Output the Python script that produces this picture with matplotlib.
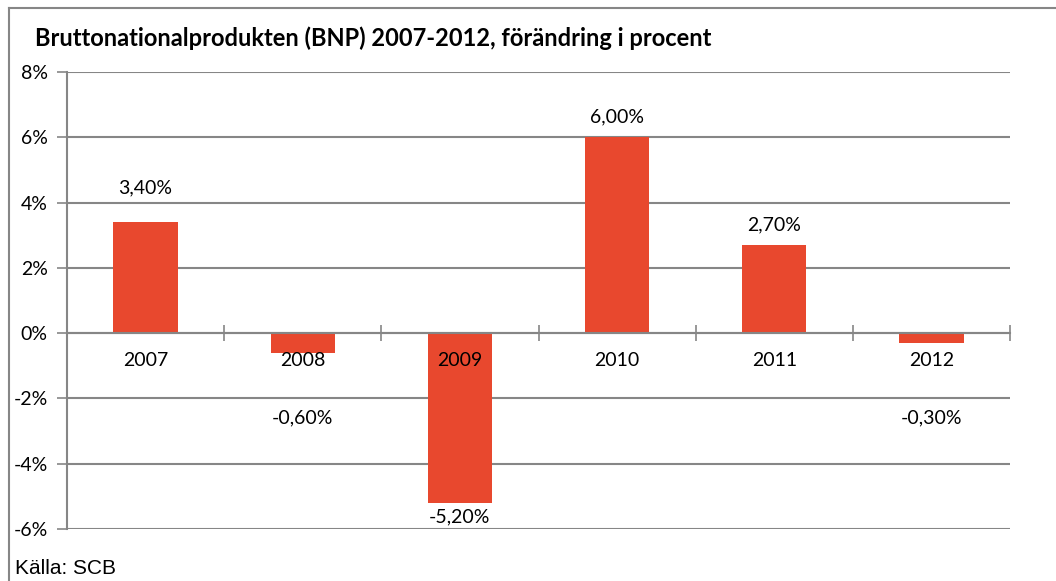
import matplotlib.pyplot as plt
import numpy as np
from matplotlib.lines import Line2D

# BNP-förändring per år (procent)
years = ['2007', '2008', '2009', '2010', '2011', '2012']
bnp = [3.4, -0.6, -5.2, 6.0, 2.7, -0.3]
y_ticks = [-6, -4, -2, 0, 2, 4, 6, 8]

GRAY = '#868686'
RED = '#E8482E'
FS = 14

plt.rcParams['font.family'] = ['Lato', 'DejaVu Sans']

fig = plt.figure(figsize=(10.56, 5.81), dpi=100)
ax = fig.add_axes([67 / 1056, 52 / 581, 943 / 1056, 457 / 581])

x = np.arange(len(years))
ax.bar(x, bnp, width=0.41, color=RED, zorder=3)

ax.set_xlim(-0.5, len(years) - 0.5)
ax.set_ylim(-6, 8)
ax.set_yticks(y_ticks)
ax.set_yticklabels([f'{t}%' for t in y_ticks], fontsize=FS)
ax.yaxis.grid(True, color=GRAY, lw=1.5, zorder=0)

# x-axeln ligger vid 0 med streck mellan kategorierna
ax.spines['bottom'].set_position(('data', 0))
ax.spines['bottom'].set_color(GRAY)
ax.spines['bottom'].set_linewidth(1.5)
ax.spines['bottom'].set_zorder(4)
ax.set_xticks(np.arange(-0.5, len(years), 1.0))
ax.set_xticklabels([])
ax.tick_params(axis='x', direction='inout', length=12, width=1.2, color=GRAY)
ax.spines['left'].set_color(GRAY)
ax.spines['left'].set_linewidth(1.5)
ax.tick_params(axis='y', direction='out', length=7, width=1.2, color=GRAY, pad=7)
for s in ['top', 'right']:
    ax.spines[s].set_visible(False)

# årtal under nollinjen
for i, yr in enumerate(years):
    ax.annotate(yr, (i, 0), xytext=(0, -19.5), textcoords='offset points',
                ha='center', va='center', fontsize=FS, zorder=5)

# värdeetiketter
for i, v in enumerate(bnp):
    txt = f'{v:.2f}%'.replace('.', ',')
    if v >= 0:
        off = 25 if i == 0 else 14.5
        ax.annotate(txt, (i, v), xytext=(0, off), textcoords='offset points',
                    ha='center', va='center', fontsize=FS)
    elif v > -2:
        ax.annotate(txt, (i, -2.6), ha='center', va='center', fontsize=FS)
    else:
        ax.annotate(txt, (i, v), xytext=(0, -10), textcoords='offset points',
                    ha='center', va='center', fontsize=FS)

fig.text(35 / 1056, 1 - 38 / 581,
         'Bruttonationalprodukten (BNP) 2007-2012, förändring i procent',
         fontsize=17, fontweight='bold', va='center', ha='left')
fig.text(15 / 1056, 1 - 568 / 581, 'Källa: SCB', fontsize=15,
         family=['Liberation Sans', 'DejaVu Sans'], va='center', ha='left')

# ram runt diagrammet
fig.add_artist(Line2D([9 / 1056, 9 / 1056], [0, 1 - 8 / 581], color=GRAY, lw=1.5))
fig.add_artist(Line2D([9 / 1056, 1], [1 - 8 / 581, 1 - 8 / 581], color=GRAY, lw=1.5))

fig.savefig('out.png', dpi=100)
